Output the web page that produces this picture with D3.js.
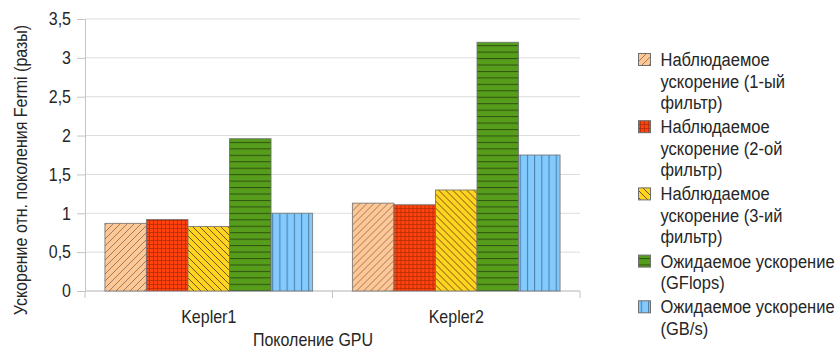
<!DOCTYPE html>
<html>
<head>
<meta charset="utf-8">
<script src="https://cdn.jsdelivr.net/npm/d3@7"></script>
<style>
  html, body { margin: 0; padding: 0; background: #fff; }
  svg text { font-family: "Liberation Sans", Arial, sans-serif; fill: #262626; }
</style>
</head>
<body>
<svg id="chart" width="838" height="353"></svg>
<script>
// GPU generations and speedups relative to Fermi
const categories = ["Kepler1", "Kepler2"];
const seriesNames = [
  "Наблюдаемое ускорение (1-ый фильтр)",
  "Наблюдаемое ускорение (2-ой фильтр)",
  "Наблюдаемое ускорение (3-ий фильтр)",
  "Ожидаемое ускорение (GFlops)",
  "Ожидаемое ускорение (GB/s)"
];
const legendLines = [
  ["Наблюдаемое", "ускорение (1-ый", "фильтр)"],
  ["Наблюдаемое", "ускорение (2-ой", "фильтр)"],
  ["Наблюдаемое", "ускорение (3-ий", "фильтр)"],
  ["Ожидаемое ускорение", "(GFlops)"],
  ["Ожидаемое ускорение", "(GB/s)"]
];
const observed1 = [0.87, 1.13];
const observed2 = [0.92, 1.11];
const observed3 = [0.83, 1.30];
const expectedFlops = [1.96, 3.20];
const expectedBw = [1.00, 1.75];
const seriesValues = [observed1, observed2, observed3, expectedFlops, expectedBw];
const yTicks = [0, 0.5, 1, 1.5, 2, 2.5, 3, 3.5];
const xTitle = "Поколение GPU";
const yTitle = "Ускорение отн. поколения Fermi (разы)";

const svg = d3.select("#chart");
const plot = { left: 85, right: 580, top: 19, bottom: 291 };
const fontSize = 16;
const legendFont = 16.5;
const tall = 1.14; // glyphs drawn slightly taller than wide

// Hatch fills, one per series
const defs = svg.append("defs");
const fills = ["#ffc794", "#ff420e", "#ffd320", "#579d1c", "#83caff"];
function makePattern(id, size, bg, draw) {
  const p = defs.append("pattern").attr("id", id)
    .attr("patternUnits", "userSpaceOnUse").attr("width", size).attr("height", size);
  p.append("rect").attr("width", size).attr("height", size).attr("fill", bg);
  draw(p, size);
}
makePattern("pat0", 7, fills[0], (p, s) => {
  p.append("path").attr("d", `M0,${s} L${s},0 M${-s/2},${s/2} L${s/2},${-s/2} M${s/2},${s*1.5} L${s*1.5},${s/2}`)
    .attr("stroke", "#8a7560").attr("stroke-width", 0.9);
});
makePattern("pat1", 4, fills[1], (p, s) => {
  p.append("path").attr("d", `M0,0.5 H${s} M0.5,0 V${s}`)
    .attr("stroke", "#b8300a").attr("stroke-width", 0.9);
});
makePattern("pat2", 7, fills[2], (p, s) => {
  p.append("path").attr("d", `M0,0 L${s},${s} M${-s/2},${s/2} L${s/2},${s*1.5} M${s/2},${-s/2} L${s*1.5},${s/2}`)
    .attr("stroke", "#5a4a10").attr("stroke-width", 0.9);
});
makePattern("pat3", 6.45, fills[3], (p, s) => {
  p.append("path").attr("d", `M0,0.5 H${s}`).attr("stroke", "#2f5410").attr("stroke-width", 1.1);
});
makePattern("pat4", 7.2, fills[4], (p, s) => {
  p.append("path").attr("d", `M0.5,0 V${s}`).attr("stroke", "#4f7fa3").attr("stroke-width", 1.1);
});

const x0 = d3.scaleBand().domain(categories).range([plot.left, plot.right]).paddingInner(0).paddingOuter(0);
const x1 = d3.scaleBand().domain(d3.range(seriesNames.length)).range([0, x0.bandwidth()])
  .paddingInner(0).paddingOuter(0.48);
const y = d3.scaleLinear().domain([0, 3.5]).range([plot.bottom, plot.top]);

// Text placed at (x, y) with a vertical stretch
function label(parent, x, yy, str, size, anchor, rotate) {
  const g = parent.append("g")
    .attr("transform", `translate(${x},${yy})${rotate ? ` rotate(${rotate})` : ""} scale(1,${tall})`);
  return g.append("text").attr("font-size", size).attr("text-anchor", anchor || "start").text(str);
}

// Horizontal grid
svg.append("g").selectAll("line").data(yTicks).join("line")
  .attr("x1", plot.left).attr("x2", plot.right)
  .attr("y1", d => y(d)).attr("y2", d => y(d))
  .attr("stroke", "#dcdcdc").attr("stroke-width", 1);

// Y axis
const yAxis = svg.append("g").attr("transform", `translate(${plot.left},0)`)
  .call(d3.axisLeft(y).tickValues(yTicks).tickSize(8).tickPadding(6)
    .tickFormat(d => String(d).replace(".", ",")));
yAxis.select(".domain").attr("stroke", "#c4c4c4");
yAxis.selectAll(".tick line").attr("stroke", "#c4c4c4");
yAxis.selectAll(".tick text").attr("font-size", fontSize).attr("fill", "#262626")
  .attr("font-family", "'Liberation Sans', Arial, sans-serif")
  .attr("transform", `scale(1,${tall})`);

// X axis with ticks at category boundaries
const xg = svg.append("g").attr("transform", `translate(0,${plot.bottom})`);
xg.append("line").attr("x1", plot.left).attr("x2", plot.right).attr("stroke", "#c4c4c4");
const bounds = [plot.left, ...categories.map(c => x0(c) + x0.bandwidth())];
xg.selectAll("line.b").data(bounds).join("line").attr("class", "b")
  .attr("x1", d => d).attr("x2", d => d).attr("y1", 0).attr("y2", 7).attr("stroke", "#c4c4c4");
categories.forEach(c => label(xg, x0(c) + x0.bandwidth() / 2, 32.3, c, fontSize, "middle"));

// Bars
const groups = svg.append("g").selectAll("g").data(categories).join("g")
  .attr("transform", d => `translate(${x0(d)},0)`);
groups.selectAll("rect").data((c, ci) => seriesValues.map((vals, si) => ({ si, v: vals[ci] })))
  .join("rect")
  .attr("x", d => x1(d.si)).attr("width", x1.bandwidth())
  .attr("y", d => y(d.v)).attr("height", d => y(0) - y(d.v))
  .attr("fill", d => `url(#pat${d.si})`)
  .attr("stroke", "#6e6e6e").attr("stroke-opacity", 0.8).attr("stroke-width", 1);

// Axis titles
label(svg, 313, 345.5, xTitle, fontSize, "middle");
label(svg, 26.5, 170, yTitle, fontSize, "middle", -90);

// Legend
const lineH = 21.5;
let ly = 66;
const legend = svg.append("g");
legendLines.forEach((lines, i) => {
  legend.append("rect").attr("x", 638.5).attr("y", ly - 12.5).attr("width", 12).attr("height", 12)
    .attr("fill", `url(#pat${i})`).attr("stroke", "#6e6e6e").attr("stroke-width", 1);
  lines.forEach((ln, k) => label(legend, 660.5, ly + k * lineH, ln, legendFont));
  ly += lines.length * lineH + 2.7;
});
</script>
</body>
</html>
